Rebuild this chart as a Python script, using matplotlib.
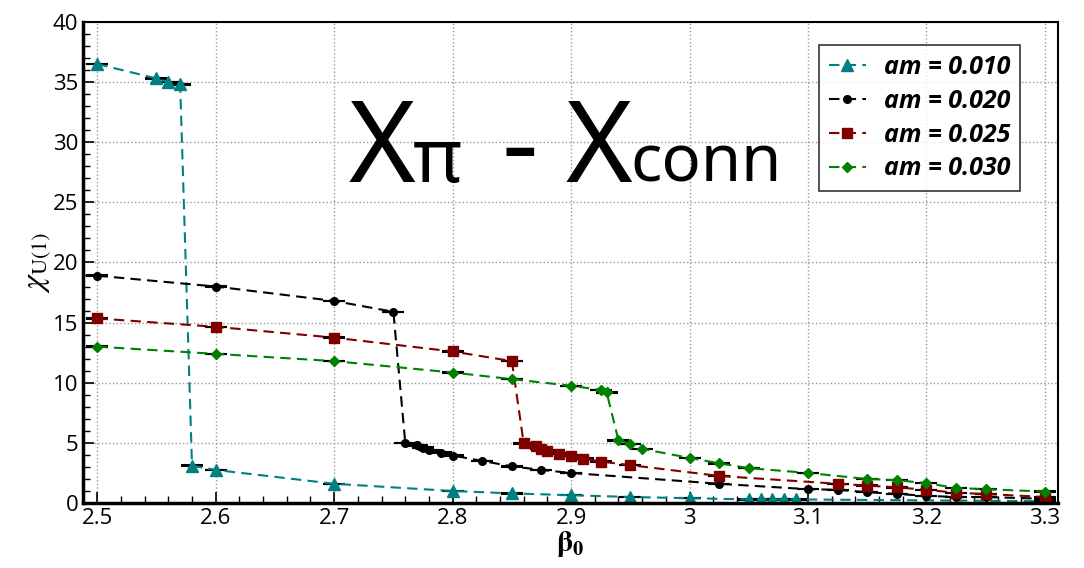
import numpy as np
import matplotlib
matplotlib.use("Agg")
import matplotlib.pyplot as plt
from matplotlib.ticker import MultipleLocator
from matplotlib.lines import Line2D

# am = 0.010
b010 = [2.5, 2.55, 2.56, 2.57, 2.58, 2.6, 2.7, 2.8, 2.85, 2.9, 2.95, 3.0,
        3.05, 3.06, 3.07, 3.08, 3.09, 3.3]
c010 = [36.5, 35.3, 35.0, 34.8, 3.1, 2.75, 1.6, 1.0, 0.8, 0.65, 0.5, 0.4,
        0.3, 0.3, 0.3, 0.3, 0.3, 0.15]
# am = 0.020
b020 = [2.5, 2.6, 2.7, 2.75, 2.76, 2.77, 2.775, 2.78, 2.79, 2.8, 2.825, 2.85,
        2.875, 2.9, 3.025, 3.1, 3.125, 3.15, 3.175, 3.2, 3.225, 3.25, 3.3]
c020 = [18.9, 18.0, 16.8, 15.9, 5.0, 4.8, 4.6, 4.4, 4.2, 3.95, 3.5, 3.05,
        2.75, 2.5, 1.6, 1.15, 1.1, 0.9, 0.75, 0.6, 0.5, 0.5, 0.35]
# am = 0.025
b025 = [2.5, 2.6, 2.7, 2.8, 2.85, 2.86, 2.87, 2.875, 2.88, 2.89, 2.9, 2.91,
        2.925, 2.95, 3.025, 3.125, 3.15, 3.175, 3.2, 3.225, 3.25, 3.3]
c025 = [15.35, 14.65, 13.75, 12.6, 11.8, 4.95, 4.7, 4.5, 4.35, 4.1, 3.95, 3.7,
        3.45, 3.15, 2.25, 1.6, 1.45, 1.3, 1.1, 0.85, 0.75, 0.5]
# am = 0.030
b030 = [2.5, 2.6, 2.7, 2.8, 2.85, 2.9, 2.925, 2.93, 2.94, 2.95, 2.96, 3.0,
        3.025, 3.05, 3.1, 3.15, 3.175, 3.2, 3.225, 3.25, 3.3]
c030 = [13.0, 12.4, 11.8, 10.85, 10.3, 9.75, 9.4, 9.2, 5.2, 4.9, 4.5, 3.75,
        3.3, 2.9, 2.5, 2.0, 1.9, 1.65, 1.25, 1.15, 0.95]

series = [
    (b010, c010, "#008080", "^", 8, "am = 0.010"),
    (b020, c020, "black", "o", 5.5, "am = 0.020"),
    (b025, c025, "#800000", "s", 7, "am = 0.025"),
    (b030, c030, "#008000", "D", 5.5, "am = 0.030"),
]

plt.rcParams["font.family"] = ["Open Sans", "DejaVu Sans"]
plt.rcParams["mathtext.fontset"] = "stix"

fig = plt.figure(figsize=(10.84, 5.68), dpi=100)
ax = fig.add_axes([0.0766, 0.1144, 0.8994, 0.847])

dash = (0, (5, 3))
handles = []
for b, c, col, mk, ms, lab in series:
    ax.errorbar(b, c, yerr=0.02, color=col, marker=mk, markersize=ms,
                linestyle=dash, linewidth=1.5, ecolor="black",
                elinewidth=1.2, capsize=8, capthick=1.5)
    handles.append(Line2D([], [], color=col, marker=mk, markersize=ms,
                          linestyle=dash, linewidth=1.5, label=lab))

ax.set_xlim(2.488, 3.311)
ax.set_ylim(0, 40)
ax.xaxis.set_minor_locator(MultipleLocator(0.02))
ax.yaxis.set_major_locator(MultipleLocator(5))
ax.yaxis.set_minor_locator(MultipleLocator(1))
ax.set_xticks(np.arange(2.5, 3.31, 0.1))
ax.set_xticklabels(["2.5", "2.6", "2.7", "2.8", "2.9", "3", "3.1", "3.2", "3.3"])
ax.tick_params(which="both", direction="in", labelsize=16)
ax.tick_params(which="major", length=8, width=1.2)
ax.tick_params(which="minor", length=5, width=1)
ax.grid(True, which="major", linestyle=":", color="#999999", linewidth=1)
for s in ax.spines.values():
    s.set_linewidth(1.5)
ax.spines["left"].set_linewidth(2.5)
ax.spines["bottom"].set_linewidth(2.5)

ax.set_xlabel(r"$\mathbf{\beta_0}$", fontsize=21, labelpad=0)
ax.set_ylabel(r"$\chi_{\mathrm{U(1)}}$", fontsize=23, labelpad=0)

leg = ax.legend(handles=handles, loc="upper right", frameon=True,
                fancybox=False, edgecolor="black", handlelength=1.5,
                prop={"family": "Open Sans", "weight": "bold",
                      "style": "italic", "size": 18},
                bbox_to_anchor=(0.961, 0.952), borderaxespad=0,
                borderpad=0.4, labelspacing=0.35, handletextpad=0.7)
leg.get_frame().set_linewidth(1.2)

H = 568.0
W = 1084.0
def ftext(px, py, s, size):
    fig.text(px / W, 1 - py / H, s, fontsize=size, ha="left",
             va="baseline", family="Noto Sans")

ftext(349, 182, "X", 82)
ftext(413, 182, "π", 54)
ftext(502, 182, "-", 82)
ftext(566, 182, "X", 82)
ftext(630, 182, "conn", 47)

fig.savefig("out.png", dpi=100)
